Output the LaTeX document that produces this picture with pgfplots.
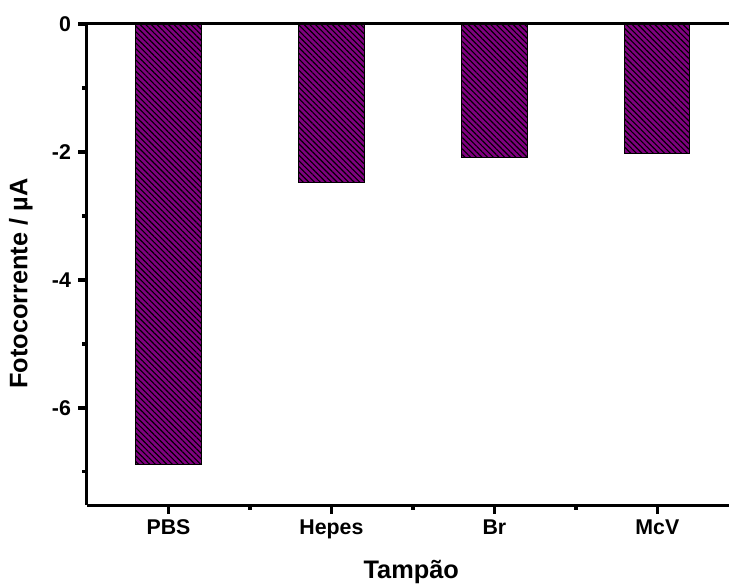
\documentclass[border=0pt]{standalone}
\usepackage{pgfplots}
\pgfplotsset{compat=1.18}
\usepackage{fontspec}
\setmainfont{Liberation Sans}
\usetikzlibrary{patterns.meta}
\definecolor{barpurple}{HTML}{800080}
\begin{document}
\begin{tikzpicture}[x=0.75pt,y=0.75pt]
\useasboundingbox (-87,-81) rectangle (642,505);
\begin{axis}[
  at={(0,0)}, anchor=south west,
  scale only axis, width=481.5pt, height=360.75pt,
  xmin=-0.5, xmax=3.44, ymin=-7.52, ymax=0,
  axis x line*=bottom, axis y line*=left,
  axis line style={line width=2.25pt,-},
  every tick/.style={line width=2.6pt, black},
  tick align=outside,
  major tick length=6.5pt, minor tick length=3.5pt,
  xtick={0,1,2,3}, xticklabels={PBS,Hepes,Br,McV},
  minor xtick={0.5,1.5,2.5},
  ytick={-6,-4,-2,0}, minor ytick={-7,-5,-3,-1},
  /pgf/number format/assume math mode=true,
  ticklabel style={font=\fontsize{16}{18}\selectfont\bfseries},
  xticklabel style={yshift=-1pt},
  yticklabel style={xshift=-2pt},
  xlabel={Tampão}, ylabel={Fotocorrente / µA},
  label style={font=\fontsize{19}{22}\selectfont\bfseries},
  xlabel style={at={(axis description cs:0.505,-0.14)}, anchor=center},
  ylabel style={at={(axis description cs:-0.103,0.46)}, anchor=center},
  clip=false,
]
\addplot[ybar, bar width=0.4, fill=barpurple, draw=black, line width=0.6pt,
  postaction={pattern={Lines[angle=-45,distance=3pt,line width=0.85pt]}, pattern color=black}]
  coordinates {(0,-6.89) (1,-2.47) (2,-2.08) (3,-2.03)};
\draw[line width=2.25pt] (axis cs:-0.5,0) -- (axis cs:3.44,0);
\end{axis}
\end{tikzpicture}
\end{document}
